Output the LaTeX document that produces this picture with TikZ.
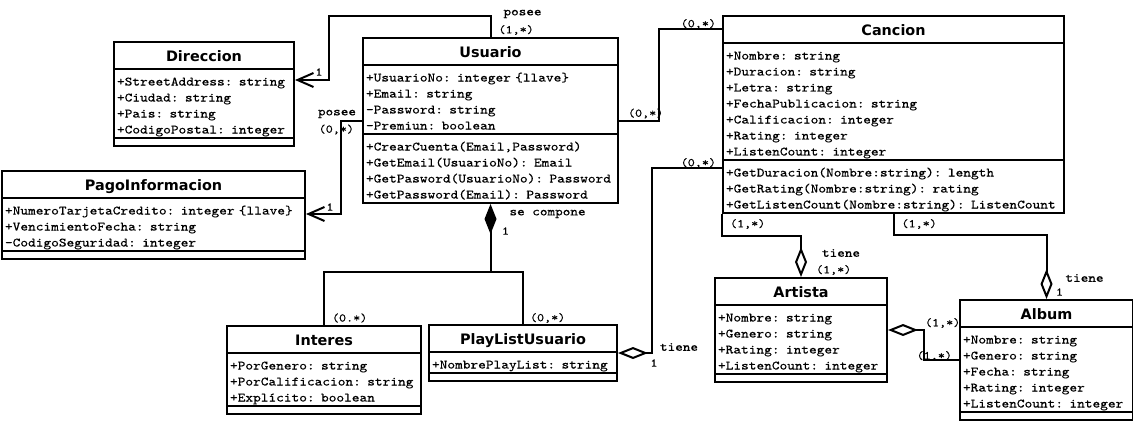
\documentclass[tikz,border=0pt]{standalone}
\usepackage{fontspec}
\newfontfamily\cour{lmmono10-regular.otf}[FakeStretch=1.15, FakeBold=0.4]
\newfontfamily\clsfont{DejaVu Sans}
\usetikzlibrary{shapes.multipart, arrows.meta}
\tikzstyle{cls} = [draw, line width=2pt, rectangle split, rectangle split parts=3,
    anchor=north west, align=left, inner xsep=3pt, inner ysep=1.5pt,
    font=\fontsize{12.75}{16}\selectfont\cour]
\tikzstyle{line} = [line width=2pt]
\tikzstyle{assoc} = [line, -{Straight Barb[length=16pt, width=14pt]}]
\tikzstyle{aggr} = [line, {Diamond[open, length=30pt, width=12pt]}-]
\tikzstyle{comp} = [line, {Diamond[length=30pt, width=12pt]}-]
\tikzstyle{lbl} = [inner sep=0pt, font=\fontsize{12.6}{13}\selectfont\cour]
\tikzstyle{mult} = [inner sep=0pt, font=\fontsize{11.7}{12}\selectfont\cour]
\newcommand\clase[1]{\hfill\rule[-5pt]{0pt}{22pt}\smash{\clsfont\bfseries\fontsize{14.4}{16}\selectfont #1}\hfill\null}
\newcommand\fila[1]{\rule[-2pt]{0pt}{16pt}\smash{#1}}
\newcommand\vacio{\rule{0pt}{3pt}}

\begin{document}
\begin{tikzpicture}[x=1pt, y=-1pt]
    \useasboundingbox (0,0) rectangle (1133,423);

    % clases
    \node[cls, text width=174pt] (Direccion) at (113,41) {\clase{Direccion}
        \nodepart{two}\fila{+StreetAddress: string}\\ \fila{+Ciudad: string}\\
        \fila{+Pais: string}\\ \fila{+CodigoPostal: integer}
        \nodepart{three}\vacio};
    \node[cls, text width=297pt] (PagoInformacion) at (1,170) {\clase{PagoInformacion}
        \nodepart{two}\fila{+NumeroTarjetaCredito: integer \{llave\}}\\
        \fila{+VencimientoFecha: string}\\ \fila{-CodigoSeguridad: integer}
        \nodepart{three}\vacio};
    \node[cls, text width=249pt] (Usuario) at (362,37) {\clase{Usuario}
        \nodepart{two}\fila{+UsuarioNo: integer \{llave\}}\\ \fila{+Email: string}\\
        \fila{-Password: string}\\ \fila{-Premiun: boolean}
        \nodepart{three}\fila{+CrearCuenta(Email,Password)}\\
        \fila{+GetEmail(UsuarioNo): Email}\\ \fila{+GetPasword(UsuarioNo): Password}\\
        \fila{+GetPassword(Email): Password}};
    \node[cls, text width=335pt] (Cancion) at (722,15) {\clase{Cancion}
        \nodepart{two}\fila{+Nombre: string}\\ \fila{+Duracion: string}\\ \fila{+Letra: string}\\
        \fila{+FechaPublicacion: string}\\ \fila{+Calificacion: integer}\\
        \fila{+Rating: integer}\\ \fila{+ListenCount: integer}
        \nodepart{three}\fila{+GetDuracion(Nombre:string): length}\\
        \fila{+GetRating(Nombre:string): rating}\\
        \fila{+GetListenCount(Nombre:string): ListenCount}};
    \node[cls, text width=188pt] (Interes) at (226,325) {\clase{Interes}
        \nodepart{two}\fila{+PorGenero: string}\\ \fila{+PorCalificacion: string}\\
        \fila{+Explícito: boolean}
        \nodepart{three}\vacio};
    \node[cls, text width=182pt] (PlayListUsuario) at (428,324) {\clase{PlayListUsuario}
        \nodepart{two}\fila{+NombrePlayList: string}
        \nodepart{three}\vacio};
    \node[cls, text width=166pt] (Artista) at (714,277) {\clase{Artista}
        \nodepart{two}\fila{+Nombre: string}\\ \fila{+Genero: string}\\
        \fila{+Rating: integer}\\ \fila{+ListenCount: integer}
        \nodepart{three}\vacio};
    \node[cls, text width=167pt] (Album) at (959,299) {\clase{Album}
        \nodepart{two}\fila{+Nombre: string}\\ \fila{+Genero: string}\\ \fila{+Fecha: string}\\
        \fila{+Rating: integer}\\ \fila{+ListenCount: integer}
        \nodepart{three}\vacio};

    % relaciones
    \draw[assoc] (Usuario.north)
            node[mult, anchor=west, xshift=7pt, yshift=7pt] {(1,*)}
            node[lbl, anchor=west, xshift=12pt, yshift=23pt] {posee}
        -- ++(0,-21) -| ++(-162,64) -- ([yshift=-39pt]Direccion.north east)
            node[mult, xshift=24pt, yshift=8pt] {1};
    \draw[assoc] (Usuario.west)
            node[lbl, anchor=east, xshift=-5pt, yshift=6.5pt] {posee}
            node[mult, anchor=east, xshift=-7pt, yshift=-9pt] {(0,*)}
        -- ++(-21,0) |- ([yshift=-44pt]PagoInformacion.north east)
            node[mult, xshift=24pt, yshift=7pt] {1};
    \draw[line] (Usuario.east)
            node[mult, anchor=west, xshift=8pt, yshift=7pt] {(0,*)}
        -- ++(40,0) |- ([yshift=-14pt]Cancion.north west)
            node[mult, anchor=east, xshift=-5pt, yshift=5pt] {(0,*)};
    \draw[aggr] (PlayListUsuario.east)
            node[lbl, anchor=west, xshift=41pt, yshift=6pt] {tiene}
            node[mult, xshift=36pt, yshift=-10pt] {1}
        -- ++(34,0) |- ([yshift=-153pt]Cancion.north west)
            node[mult, anchor=east, xshift=-5pt, yshift=5pt] {(0,*)};
    \draw[comp] (Usuario.south)
            node[lbl, anchor=west, xshift=18pt, yshift=-10pt] {se compone}
            node[mult, xshift=15pt, yshift=-27pt] {1}
        -- ++(0,68) coordinate (junta);
    \draw[line] (junta) -| (Interes.north)
            node[mult, anchor=west, xshift=7pt, yshift=7pt] {(0.*)};
    \draw[line] (junta) -| (PlayListUsuario.north)
            node[mult, anchor=west, xshift=6pt, yshift=6pt] {(0,*)};
    \draw[aggr] (Artista.north)
            node[lbl, anchor=west, xshift=20pt, yshift=24pt] {tiene}
            node[mult, anchor=west, xshift=14pt, yshift=7pt] {(1,*)}
        -- ++(0,-41) -| (Cancion.south west)
            node[mult, anchor=west, xshift=7pt, yshift=-10pt] {(1,*)};
    \draw[aggr] (Album.north)
            node[lbl, anchor=west, xshift=18pt, yshift=21pt] {tiene}
            node[mult, xshift=13pt, yshift=7pt] {1}
        -- ++(0,-64) -| (Cancion.south)
            node[mult, anchor=west, xshift=7pt, yshift=-10pt] {(1,*)};
    \draw[aggr] (Artista.east)
            node[mult, anchor=west, xshift=36pt, yshift=7pt] {(1,*)}
        -- ++(36,0) |- (Album.west)
            node[mult, anchor=east, xshift=-6pt, yshift=4pt] {(1,*)};
\end{tikzpicture}
\end{document}
